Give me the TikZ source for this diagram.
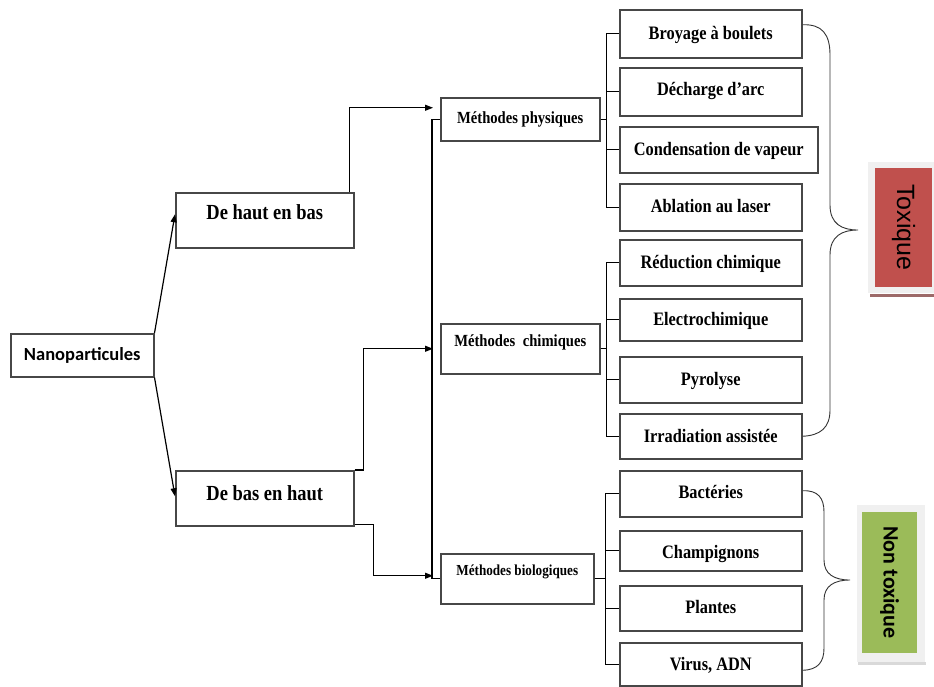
\documentclass[tikz,border=0pt]{standalone}
\usepackage{fontspec}
\setmainfont{Liberation Serif}
\newfontfamily\serifc[FakeStretch=0.86]{Liberation Serif}
\newfontfamily\carl{Carlito}
\newfontfamily\arialf{Liberation Sans}
\usetikzlibrary{arrows.meta,calc}
\definecolor{toxred}{HTML}{C0504D}
\definecolor{ntgreen}{HTML}{9BBB59}
\newcommand\bx[8]{%
  \pgfmathsetmacro\bxw{#4-#2}%
  \pgfmathsetmacro\bxh{#6-#3}%
  \pgfmathsetmacro\bxd{#5-#6}%
  \node[#7, minimum width=\bxw pt, text height=\bxh pt, text depth=\bxd pt] (#1) at (#2,#3) {#8};}
\begin{document}
\begin{tikzpicture}[x=1pt,y=-1pt,
  box/.style={draw=black!72, line width=1.5pt, fill=white, inner xsep=0pt, inner ysep=0pt, anchor=north west},
  leaf/.style={box, font=\serifc\bfseries\fontsize{19}{19}\selectfont},
  mid/.style={box, font=\serifc\bfseries\fontsize{21.5}{21.5}\selectfont},
  meth/.style={box, font=\serifc\bfseries\fontsize{17}{17}\selectfont},
  methb/.style={box, font=\serifc\bfseries\fontsize{15.3}{15.3}\selectfont},
  conn/.style={line width=1.2pt, draw=black},
  arr/.style={conn, -{Triangle[length=8pt,width=6pt]}},
  brace/.style={line width=0.9pt, draw=black!80},
]
\useasboundingbox (0,0) rectangle (934,686);
\fill[white] (0,0) rectangle (934,686);
% left part
\bx{np}{10}{333}{153}{376}{360}{box, font=\carl\bfseries\fontsize{18.5}{18.5}\selectfont}{Nanoparticules}
\bx{dhb}{175}{192}{353}{247}{219}{mid}{De haut en bas}
\bx{dbh}{175}{470}{353}{525}{500}{mid}{De bas en haut}
% methods
\bx{mp}{440}{97}{599}{140}{123}{meth}{Méthodes physiques}
\bx{mc}{440}{323}{599}{373}{346}{meth}{Méthodes\hspace{0.45em}chimiques}
\bx{mb}{440}{553}{593}{603}{575}{methb}{Méthodes biologiques}
% leaves
\bx{b1}{619}{9}{801}{57}{39}{leaf}{Broyage à boulets}
\bx{b2}{619}{67}{801}{115}{95}{leaf}{Décharge d’arc}
\bx{b3}{619}{126}{817}{172}{155}{leaf}{Condensation de vapeur}
\bx{b4}{619}{183}{801}{230}{212}{leaf}{Ablation au laser}
\bx{c1}{619}{239}{801}{285}{268}{leaf}{Réduction chimique}
\bx{c2}{619}{298}{801}{340}{325}{leaf}{Electrochimique}
\bx{c3}{619}{356}{801}{402}{385}{leaf}{Pyrolyse}
\bx{c4}{619}{413}{801}{458}{442}{leaf}{Irradiation assistée}
\bx{d1}{619}{470}{801}{516}{498}{leaf}{Bactéries}
\bx{d2}{619}{530}{801}{570}{558}{leaf}{Champignons}
\bx{d3}{619}{585}{801}{630}{613}{leaf}{Plantes}
\bx{d4}{619}{642}{801}{685}{670}{leaf}{Virus, ADN}
% connectors
\draw[arr] (np.north east) -- ($(dhb.west)+(0,-6)$);
\draw[arr] (np.south east) -- ($(dbh.west)+(0,-2)$);
\draw[arr] ($(dhb.north east)+(-5,0)$) |- ($(mp.west)+(-7,-11.5)$);
\draw[arr] (dbh.north east) -- ++(9,0) |- ($(mc.west)+(-7,0)$);
\draw[arr] ($(dbh.south east)+(0,-2)$) -- ++(19,0) |- ($(mb.west)+(-7,-3)$);
\draw[conn] (mp.west) -- ++(-8,0) |- (mb.west);
\foreach \c in {b1,b2,b3,b4} \draw[conn] (mp.east) -- ++(6,0) |- (\c.west);
\foreach \c in {c1,c2,c3,c4} \draw[conn] (mc.east) -- ++(6,0) |- (\c.west);
\foreach \c in {d1,d2,d3,d4} \draw[conn] (mb.east) -- ++(11,0) |- (\c.west);
% braces
\coordinate (t1) at ($(b1.east)+(0,-9)$);
\coordinate (t2) at ($(c4.east)+(0,0)$);
\draw[brace] (t1) .. controls (822,24) and (830,34) .. (830,55) -- (830,205)
  .. controls (830,224) and (842,230) .. (858,230)
  .. controls (842,230) and (830,236) .. (830,255) -- (830,410)
  .. controls (830,428) and (820,435.5) .. (t2);
\coordinate (n1) at ($(d1.east)+(0,-3)$);
\coordinate (n2) at ($(d4.east)+(0,6)$);
\draw[brace] (n1) .. controls (818,490) and (824,498) .. (824,512) -- (824,560)
  .. controls (824,574) and (834,580) .. (850,580)
  .. controls (834,580) and (824,586) .. (824,600) -- (824,648)
  .. controls (824,662) and (818,670) .. (n2);
% labels
\fill[black!6] (868,162) rectangle (934,293);
\fill[toxred!45!gray] (870,294) rectangle (934,297);
\node[fill=toxred, minimum width=119pt, minimum height=57pt, inner sep=0pt, rotate=-90,
  font=\arialf\fontsize{25}{25}\selectfont] (tox) at (903.5,227.5) {Toxique};
\fill[black!6] (857,505) rectangle (925,662);
\fill[black!15] (858,662) rectangle (926,665);
\node[fill=ntgreen, minimum width=141pt, minimum height=55pt, inner sep=0pt, rotate=-90,
  font=\carl\bfseries\fontsize{22}{22}\selectfont] (ntox) at (889.5,582.5) {Non toxique};
\end{tikzpicture}
\end{document}
